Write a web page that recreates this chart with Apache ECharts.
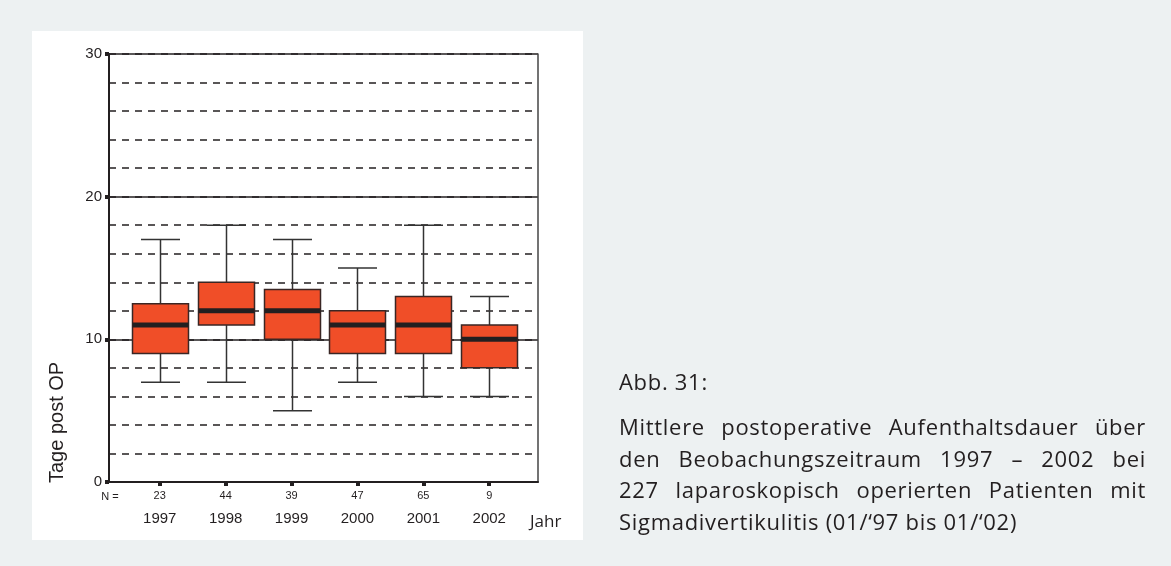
<!DOCTYPE html>
<html>
<head>
<meta charset="utf-8">
<script src="https://cdn.jsdelivr.net/npm/echarts@6/dist/echarts.min.js"></script>
<style>
  html, body { margin: 0; padding: 0; background: #edf1f2; }
  #chart { position: absolute; left: 0; top: 0; width: 1171px; height: 566px; }
  .caption {
    position: absolute;
    left: 619px;
    top: 366px;
    width: 527px;
    font-family: "Open Sans", sans-serif;
    font-size: 22px;
    letter-spacing: 0.7px;
    line-height: 31.5px;
    color: #231f20;
  }
  .caption .jl { text-align: justify; text-align-last: justify; }
  .caption .gap { height: 13.5px; }
</style>
</head>
<body>
<div id="chart"></div>
<div class="caption">
  <div>Abb. 31:</div>
  <div class="gap"></div>
  <div class="jl">Mittlere postoperative Aufenthaltsdauer über</div>
  <div class="jl">den Beobachungszeitraum 1997 – 2002 bei</div>
  <div class="jl">227 laparoskopisch operierten Patienten mit</div>
  <div>Sigmadivertikulitis (01/‘97 bis 01/‘02)</div>
</div>
<script>
// Werte
const years = ["1997", "1998", "1999", "2000", "2001", "2002"];
const counts = [23, 44, 39, 47, 65, 9];
const whiskerLow = [7, 7, 5, 7, 6, 6];
const q1 = [9, 11, 10, 9, 9, 8];
const median = [11, 12, 12, 11, 11, 10];
const q3 = [12.5, 14, 13.5, 12, 13, 11];
const whiskerHigh = [17, 18, 17, 15, 18, 13];
const yTicks = [0, 10, 20, 30];

const boxData = years.map((y, i) => [i, whiskerLow[i], q1[i], median[i], q3[i], whiskerHigh[i]]);
const positions = years.map((y, i) => i);

const chart = echarts.init(document.getElementById("chart"));

function renderBox(params, api) {
  const x = api.value(0);
  const pt = (v) => api.coord([x, v]);
  const lo = pt(api.value(1));
  const b1 = pt(api.value(2));
  const md = pt(api.value(3));
  const b3 = pt(api.value(4));
  const hi = pt(api.value(5));
  const cx = Math.round(lo[0]) + 0.5;
  const hw = 28;
  const cw = 19.5;
  const line = { stroke: "#333", lineWidth: 1.5 };
  return {
    type: "group",
    children: [
      { type: "line", shape: { x1: cx, y1: hi[1], x2: cx, y2: b3[1] }, style: line },
      { type: "line", shape: { x1: cx, y1: b1[1], x2: cx, y2: lo[1] }, style: line },
      { type: "line", shape: { x1: cx - cw, y1: hi[1], x2: cx + cw, y2: hi[1] }, style: line },
      { type: "line", shape: { x1: cx - cw, y1: lo[1], x2: cx + cw, y2: lo[1] }, style: line },
      {
        type: "rect",
        shape: { x: cx - hw, y: b3[1], width: hw * 2, height: b1[1] - b3[1] },
        style: { fill: "#f04e28", stroke: "#3a2624", lineWidth: 1.5 }
      },
      {
        type: "rect",
        shape: { x: cx - hw, y: md[1] - 2.5, width: hw * 2, height: 5 },
        style: { fill: "#231f20" }
      }
    ]
  };
}

const option = {
  backgroundColor: "#edf1f2",
  animation: false,
  textStyle: { fontFamily: "Liberation Sans" },
  grid: { left: 109, top: 54, width: 429, height: 428 },
  graphic: [
    {
      type: "rect",
      z: -10,
      shape: { x: 32, y: 31, width: 551, height: 509 },
      style: { fill: "#ffffff" }
    },
    {
      type: "text",
      x: 57,
      y: 483,
      rotation: Math.PI / 2,
      style: {
        text: "Tage post OP",
        fontFamily: "Liberation Sans",
        fontSize: 20,
        fill: "#231f20",
        align: "left",
        verticalAlign: "middle"
      }
    },
    {
      type: "text",
      x: 110,
      y: 497,
      style: {
        text: "N =",
        fontFamily: "Liberation Sans",
        fontSize: 11,
        fill: "#231f20",
        align: "center",
        verticalAlign: "middle"
      }
    },
    {
      type: "text",
      x: 530,
      y: 522,
      style: {
        text: "Jahr",
        fontFamily: "Open Sans",
        fontSize: 17,
        fill: "#231f20",
        align: "left",
        verticalAlign: "middle"
      }
    }
  ],
  xAxis: {
    type: "value",
    min: -0.77,
    max: 5.74,
    axisLine: { lineStyle: { color: "#231f20", width: 2 } },
    axisTick: {
      customValues: positions,
      length: 4,
      lineStyle: { color: "#231f20", width: 4 }
    },
    axisLabel: {
      customValues: positions,
      margin: 6,
      formatter: (v) => {
        const i = Math.round(v);
        return "{n|" + counts[i] + "}\n{y|" + years[i] + "}";
      },
      rich: {
        n: { fontSize: 11, lineHeight: 16, color: "#231f20", fontFamily: "Liberation Sans" },
        y: { fontSize: 15, lineHeight: 30, color: "#231f20", fontFamily: "Liberation Sans" }
      }
    },
    splitLine: { show: false }
  },
  yAxis: [
    {
      type: "value",
      min: 0,
      max: 30,
      interval: 10,
      axisLine: { show: true, onZero: false, lineStyle: { color: "#231f20", width: 2 } },
      axisTick: { show: true, length: 4, lineStyle: { color: "#231f20", width: 4 } },
      axisLabel: {
        margin: 7,
        fontSize: 15,
        color: "#231f20",
        formatter: (v) => (yTicks.indexOf(v) >= 0 ? String(v) : "")
      },
      splitLine: { lineStyle: { color: "#231f20", width: 1.5 } }
    },
    {
      type: "value",
      position: "right",
      min: 0,
      max: 30,
      interval: 2,
      axisLine: { show: true, onZero: false, lineStyle: { color: "#444", width: 1.5 } },
      axisTick: { show: false },
      axisLabel: { show: false },
      splitLine: { lineStyle: { color: "#231f20", width: 1.5, type: [7, 6] } }
    }
  ],
  series: [
    {
      type: "custom",
      renderItem: renderBox,
      encode: { x: 0, y: [1, 2, 3, 4, 5] },
      data: boxData,
      z: 5
    }
  ]
};

chart.setOption(option);
</script>
</body>
</html>
